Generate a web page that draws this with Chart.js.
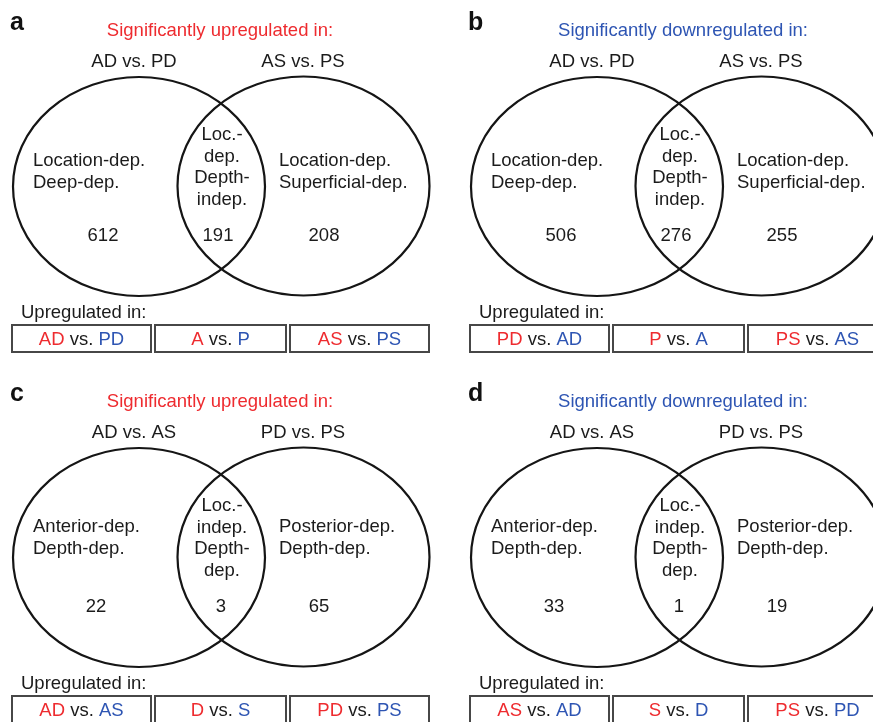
<!DOCTYPE html>
<html>
<head>
<meta charset="utf-8">
<script src="https://cdn.jsdelivr.net/npm/chart.js@4.4.1/dist/chart.umd.min.js"></script>
<style>
  html, body { margin: 0; padding: 0; background: #ffffff; }
  #wrap { width: 873px; height: 722px; overflow: hidden; }
  canvas { display: block; }
</style>
</head>
<body>
<div id="wrap"><canvas id="venn" width="873" height="722"></canvas></div>
<script>
// Panel content
const panelLetters = ['a', 'b', 'c', 'd'];
const panelTitles = [
  'Significantly upregulated in:',
  'Significantly downregulated in:',
  'Significantly upregulated in:',
  'Significantly downregulated in:'
];
const titleDirections = ['up', 'down', 'up', 'down'];
const setNames = [
  ['AD vs. PD', 'AS vs. PS'],
  ['AD vs. PD', 'AS vs. PS'],
  ['AD vs. AS', 'PD vs. PS'],
  ['AD vs. AS', 'PD vs. PS']
];
const leftRegionLabels = [
  ['Location-dep.', 'Deep-dep.'],
  ['Location-dep.', 'Deep-dep.'],
  ['Anterior-dep.', 'Depth-dep.'],
  ['Anterior-dep.', 'Depth-dep.']
];
const overlapRegionLabels = [
  ['Loc.-', 'dep.', 'Depth-', 'indep.'],
  ['Loc.-', 'dep.', 'Depth-', 'indep.'],
  ['Loc.-', 'indep.', 'Depth-', 'dep.'],
  ['Loc.-', 'indep.', 'Depth-', 'dep.']
];
const rightRegionLabels = [
  ['Location-dep.', 'Superficial-dep.'],
  ['Location-dep.', 'Superficial-dep.'],
  ['Posterior-dep.', 'Depth-dep.'],
  ['Posterior-dep.', 'Depth-dep.']
];
// Gene counts per Venn region
const leftOnlyCounts = [612, 506, 22, 33];
const overlapCounts = [191, 276, 3, 1];
const rightOnlyCounts = [208, 255, 65, 19];
const legendHeading = 'Upregulated in:';
// [higher, lower] pairs shown in the boxes under each diagram
const upregulatedPairs = [
  [['AD', 'PD'], ['A', 'P'], ['AS', 'PS']],
  [['PD', 'AD'], ['P', 'A'], ['PS', 'AS']],
  [['AD', 'AS'], ['D', 'S'], ['PD', 'PS']],
  [['AS', 'AD'], ['S', 'D'], ['PS', 'PD']]
];

// ---- layout & style (data units == pixels of the 873 x 722 plane) ----
const RED = '#ee2b2f';
const BLUE = '#2e55b3';
const INK = '#1b1b1b';
const FONT = '"Liberation Sans", Arial, Helvetica, sans-serif';
const BODY_FONT = '18.5px ' + FONT;
const panelOrigins = [[0, 0], [458, 0], [0, 371], [458, 371]];
const layout = {
  letter: { x: 10, y: 23 },
  titleCenterX: { up: 220, down: 225 },
  titleY: 31,
  setNameX: [134, 303],
  setNameY: 62,
  ellipses: [{ cx: 139, cy: 186.5 }, { cx: 303.5, cy: 186 }],
  rx: 126, ry: 109.5,
  leftLabelX: 33, rightLabelX: 279,
  sideLabelY: [[160.5, 182.5], [155.5, 177.5]],
  lensX: 222, lensY: [135, 156.5, 178, 199.5],
  countX: [[103, 218, 324], [96, 221, 319]],
  countY: 235.5,
  headingX: 21, headingY: 312.5,
  boxes: [[12, 151], [155, 286], [290, 429]],
  boxTop: 325, boxBottom: 352, boxTextY: 339.5
};

function px(chart, x) { return chart.scales.x.getPixelForValue(x); }
function py(chart, y) { return chart.scales.y.getPixelForValue(y); }

function drawText(ctx, s, x, y, align, color, font) {
  ctx.save();
  ctx.font = font || BODY_FONT;
  ctx.fillStyle = color || INK;
  ctx.textAlign = align || 'left';
  ctx.textBaseline = 'middle';
  ctx.fillText(s, x, y);
  ctx.restore();
}

const vennPlugin = {
  id: 'vennPanels',
  afterDatasetsDraw(chart) {
    const ctx = chart.ctx;
    const L = layout;
    panelOrigins.forEach((o, i) => {
      const row = i < 2 ? 0 : 1;
      const X = v => px(chart, o[0] + v);
      const Y = v => py(chart, o[1] + v);

      // panel letter
      drawText(ctx, panelLetters[i], X(L.letter.x), Y(L.letter.y), 'left', '#111',
        'bold 25px ' + FONT);

      // title
      const dir = titleDirections[i];
      drawText(ctx, panelTitles[i], X(L.titleCenterX[dir]), Y(L.titleY), 'center',
        dir === 'up' ? RED : BLUE);

      // set names
      setNames[i].forEach((n, k) => drawText(ctx, n, X(L.setNameX[k]), Y(L.setNameY), 'center'));

      // ellipses
      ctx.save();
      ctx.strokeStyle = '#151515';
      ctx.lineWidth = 2.2;
      L.ellipses.forEach(e => {
        const cx = X(e.cx), cy = Y(e.cy);
        const rx = Math.abs(X(e.cx + L.rx) - cx);
        const ry = Math.abs(Y(e.cy + L.ry) - cy);
        ctx.beginPath();
        ctx.ellipse(cx, cy, rx, ry, 0, 0, Math.PI * 2);
        ctx.stroke();
      });
      ctx.restore();

      // region labels
      leftRegionLabels[i].forEach((t, k) =>
        drawText(ctx, t, X(L.leftLabelX), Y(L.sideLabelY[row][k]), 'left'));
      rightRegionLabels[i].forEach((t, k) =>
        drawText(ctx, t, X(L.rightLabelX), Y(L.sideLabelY[row][k]), 'left'));
      overlapRegionLabels[i].forEach((t, k) =>
        drawText(ctx, t, X(L.lensX), Y(L.lensY[k]), 'center'));

      // counts
      [leftOnlyCounts[i], overlapCounts[i], rightOnlyCounts[i]].forEach((c, k) =>
        drawText(ctx, String(c), X(L.countX[row][k]), Y(L.countY), 'center'));

      // legend heading + boxes
      drawText(ctx, legendHeading, X(L.headingX), Y(L.headingY), 'left');
      upregulatedPairs[i].forEach((pair, k) => {
        const [x0, x1] = L.boxes[k];
        ctx.save();
        ctx.strokeStyle = '#474747';
        ctx.lineWidth = 2;
        ctx.strokeRect(X(x0), Y(L.boxTop), X(x1) - X(x0), Y(L.boxBottom) - Y(L.boxTop));
        ctx.restore();

        ctx.save();
        ctx.font = BODY_FONT;
        const parts = [[pair[0], RED], [' vs. ', INK], [pair[1], BLUE]];
        const widths = parts.map(p => ctx.measureText(p[0]).width);
        const total = widths.reduce((a, b) => a + b, 0);
        let x = (X(x0) + X(x1)) / 2 - total / 2;
        ctx.restore();
        parts.forEach((p, m) => {
          drawText(ctx, p[0], x, Y(L.boxTextY), 'left', p[1]);
          x += widths[m];
        });
      });
    });
  }
};

new Chart(document.getElementById('venn'), {
  type: 'scatter',
  data: { datasets: [{ data: [], pointRadius: 0 }] },
  options: {
    responsive: false,
    animation: false,
    devicePixelRatio: 1,
    layout: { padding: 0 },
    plugins: { legend: { display: false }, tooltip: { enabled: false } },
    scales: {
      x: { type: 'linear', min: 0, max: 873, display: false },
      y: { type: 'linear', min: 0, max: 722, reverse: true, display: false }
    }
  },
  plugins: [vennPlugin]
});
</script>
</body>
</html>
